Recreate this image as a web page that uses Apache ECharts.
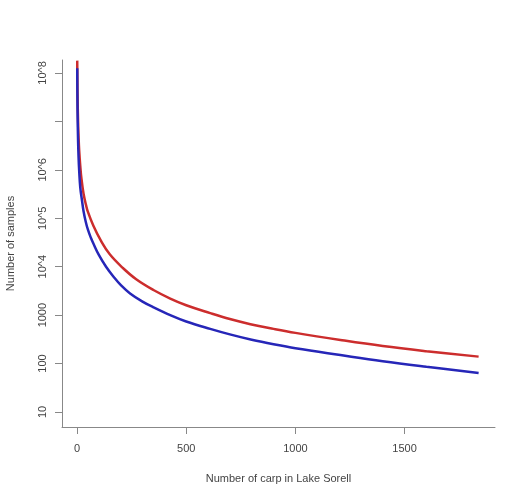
<!DOCTYPE html>
<html>
<head>
<meta charset="utf-8">
<script src="https://cdn.jsdelivr.net/npm/echarts@6/dist/echarts.min.js"></script>
<style>
    html, body { margin: 0; padding: 0; background: #fff; }
    #chart { width: 526px; height: 500px; }
</style>
</head>
<body>
<div id="chart"></div>
<script>
"use strict";
// values
var redCarp = [1, 2, 3, 5, 7, 10, 15, 20, 30, 41, 50, 75, 110, 150, 210, 271, 350, 427, 500, 610, 700, 794, 900, 1000, 1206, 1400, 1600, 1839];
var redSamples = [1.8e8, 5.2e7, 2.5e7, 9.5e6, 5.0e6, 2.5e6, 1.2e6, 6.8e5, 3.2e5, 1.9e5, 1.35e5, 7.0e4, 3.4e4, 1.8e4, 9.4e3, 5.5e3, 3.3e3, 2.2e3, 1.6e3, 1.1e3, 830, 650, 520, 430, 307, 230, 180, 139];
var blueCarp = [1, 2, 3, 5, 7, 10, 15, 23, 30, 40, 50, 64, 75, 100, 133, 170, 202, 243, 300, 350, 427, 500, 610, 700, 800, 900, 1000, 1206, 1400, 1600, 1839];
var blueSamples = [1.25e8, 2.6e7, 1.1e7, 3.8e6, 1.9e6, 9.5e5, 4.3e5, 2.3e5, 1.4e5, 8.5e4, 5.8e4, 3.9e4, 3.0e4, 1.75e4, 1.0e4, 6.0e3, 4.1e3, 2.8e3, 1.9e3, 1.45e3, 1.0e3, 740, 520, 400, 310, 250, 207, 150, 112, 86, 64];
var xTicks = [0, 500, 1000, 1500];
var yTicks = [10, 100, 1000, 1e4, 1e5, 1e6, 1e7, 1e8];
var yTickLabels = [10, 100, 1000, 1e4, 1e5, 1e6, 1e8];

function pairs(xs, ys) {
    return xs.map(function (x, i) { return [x, ys[i]]; });
}

function yLabel(v) {
    var e = Math.round(Math.log10(v));
    return e <= 3 ? String(Math.round(v)) : '10^' + e;
}

var chart = echarts.init(document.getElementById("chart")),
    textColor = '#444',
    axisColor = '#888',
    option;

option = {
    animation: false,
    grid: { left: 62, right: 31, top: 60, bottom: 73, outerBoundsMode: 'none', containLabel: false },
    xAxis: {
        type: 'value',
        min: -68.7,
        max: 1914,
        name: 'Number of carp in Lake Sorell',
        nameLocation: 'middle',
        nameGap: 46,
        nameTextStyle: { fontFamily: 'Liberation Sans', fontSize: 11, color: textColor },
        splitLine: { show: false },
        axisLine: { onZero: false, lineStyle: { color: axisColor, width: 1 } },
        axisTick: { length: 7, customValues: xTicks, lineStyle: { color: axisColor } },
        axisLabel: {
            customValues: xTicks,
            margin: 16,
            fontFamily: 'Liberation Sans',
            fontSize: 11,
            color: textColor,
            formatter: function (v) { return String(v); }
        }
    },
    yAxis: {
        type: 'log',
        logBase: 10,
        min: Math.pow(10, 0.69),
        max: Math.pow(10, 8.268),
        name: 'Number of samples',
        nameLocation: 'middle',
        nameGap: 46,
        nameTextStyle: { fontFamily: 'Liberation Sans', fontSize: 11, color: textColor },
        splitLine: { show: false },
        axisLine: { show: true, onZero: false, lineStyle: { color: axisColor, width: 1 } },
        axisTick: { show: true, length: 7, customValues: yTicks, lineStyle: { color: axisColor } },
        axisLabel: {
            customValues: yTickLabels,
            rotate: 90,
            margin: 14,
            fontFamily: 'Liberation Sans',
            fontSize: 11,
            color: textColor,
            formatter: yLabel
        }
    },
    series: [
        {
            name: 'red',
            type: 'line',
            data: pairs(redCarp, redSamples),
            showSymbol: false,
            smooth: 0.4,
            lineStyle: { color: '#cc2d2d', width: 2.5 }
        },
        {
            name: 'blue',
            type: 'line',
            data: pairs(blueCarp, blueSamples),
            showSymbol: false,
            smooth: 0.4,
            lineStyle: { color: '#2626b8', width: 2.5 }
        }
    ]
};
chart.setOption(option);
</script>
</body>
</html>
